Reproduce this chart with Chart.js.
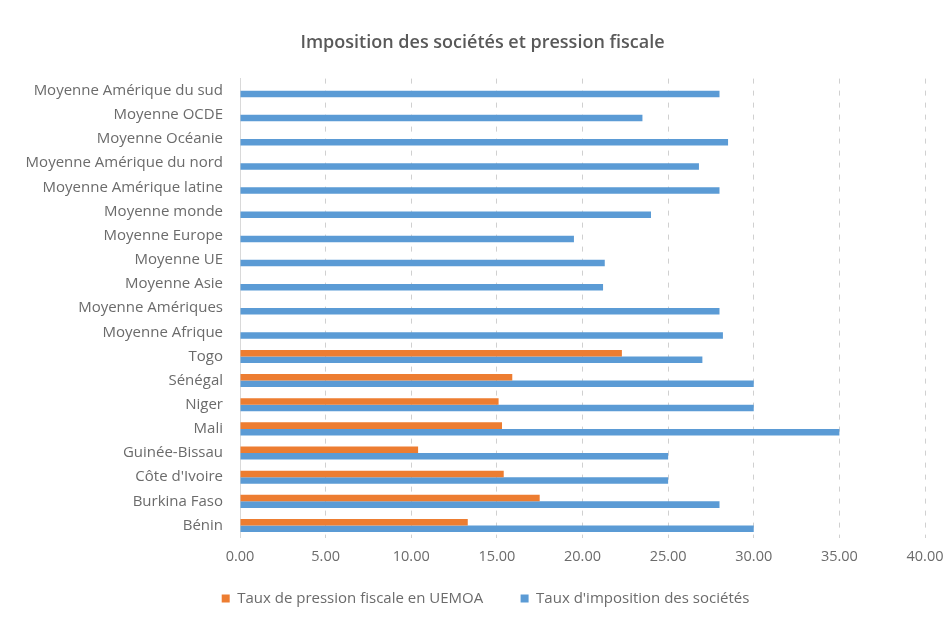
<!DOCTYPE html>
<html>
<head>
<meta charset="utf-8">
<script src="https://cdn.jsdelivr.net/npm/chart.js"></script>
<title>Imposition des sociétés</title>
<style>
  body { margin: 0; background: #fff; }
  #wrap { width: 950px; height: 620px; position: relative; }
</style>
</head>
<body>
<div id="wrap"><canvas id="myChart"></canvas></div>
<script>
// categories, top to bottom as in the picture
const pays = ['Moyenne Amérique du sud', 'Moyenne OCDE', 'Moyenne Océanie', 'Moyenne Amérique du nord',
  'Moyenne Amérique latine', 'Moyenne monde', 'Moyenne Europe', 'Moyenne UE', 'Moyenne Asie',
  'Moyenne Amériques', 'Moyenne Afrique', 'Togo', 'Sénégal', 'Niger', 'Mali', 'Guinée-Bissau',
  "Côte d'Ivoire", 'Burkina Faso', 'Bénin'];

const pressionFiscale = [null, null, null, null, null, null, null, null, null, null, null,
  22.3, 15.9, 15.1, 15.3, 10.4, 15.4, 17.5, 13.3];

const impositionSocietes = [28.0, 23.5, 28.5, 26.8, 28.0, 24.0, 19.5, 21.3, 21.2, 28.0, 28.2,
  27.0, 30.0, 30.0, 35.0, 25.0, 25.0, 28.0, 30.0];

const xTicks = [0, 5, 10, 15, 20, 25, 30, 35, 40];

const gris = '#595959';
const grisClair = '#6b6b6b';
const police = "'Open Sans', 'Noto Sans', sans-serif";

// title and legend sit a bit right of the canvas centre in the picture
const decalage = {
  id: 'decalage',
  afterLayout: chart => {
    chart.titleBlock.left += 12; chart.titleBlock.right += 12;
    chart.legend.left += 15; chart.legend.right += 15;
  }
};

new Chart(document.getElementById('myChart'), {
  type: 'bar',
  data: {
    labels: pays,
    datasets: [{
      label: 'Taux de pression fiscale en UEMOA',
      data: pressionFiscale,
      backgroundColor: '#ED7D31',
      barPercentage: 1,
      categoryPercentage: 0.54
    }, {
      label: "Taux d'imposition des sociétés",
      data: impositionSocietes,
      backgroundColor: '#5B9BD5',
      barPercentage: 1,
      categoryPercentage: 0.54
    }]
  },
  plugins: [decalage],
  options: {
    indexAxis: 'y',
    responsive: true,
    maintainAspectRatio: false,
    animation: false,
    layout: { padding: { left: 16, right: 25, top: 0, bottom: 4 } },
    scales: {
      x: {
        min: xTicks[0],
        max: xTicks[xTicks.length - 1],
        afterBuildTicks: scale => { scale.ticks = xTicks.map(v => ({ value: v })); },
        afterFit: scale => { scale.paddingLeft = 0; scale.paddingRight = 0; },
        grid: { color: '#d0d0d0', drawTicks: false },
        border: { display: false, dash: [5, 7] },
        ticks: {
          color: grisClair,
          padding: 11,
          maxRotation: 0,
          font: { family: police, size: 14.5 },
          callback: v => Number(v).toFixed(2)
        }
      },
      y: {
        grid: { display: false, drawTicks: false },
        border: { display: true, color: '#d9d9d9' },
        afterFit: scale => { scale.width = 224; },
        ticks: {
          color: grisClair,
          padding: 17,
          autoSkip: false,
          font: { family: police, size: 15 }
        }
      }
    },
    plugins: {
      title: {
        display: true,
        text: 'Imposition des sociétés et pression fiscale',
        color: gris,
        font: { family: police, size: 18, weight: '600' },
        padding: { top: 32, bottom: 25 }
      },
      legend: {
        position: 'bottom',
        labels: {
          color: grisClair,
          boxWidth: 8,
          boxHeight: 8,
          padding: 14,
          font: { family: police, size: 15 },
          // a wider gap between the two entries, as in the picture
          generateLabels: chart => {
            const items = Chart.defaults.plugins.legend.labels.generateLabels(chart);
            items[0].text = items[0].text + '      ';
            return items;
          }
        }
      },
      tooltip: { enabled: false }
    }
  }
});
</script>
</body>
</html>
